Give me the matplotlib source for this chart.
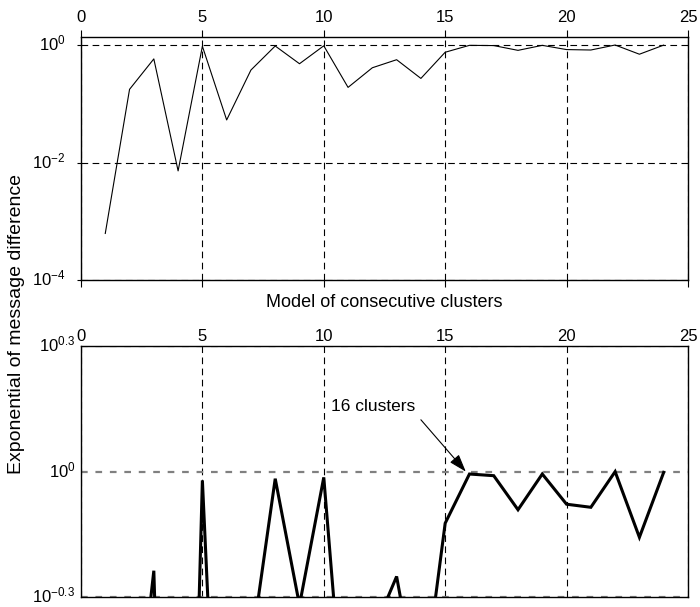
import matplotlib.pyplot as plt
import matplotlib.transforms as mtransforms
import numpy as np

plt.rcParams['font.family'] = ['Liberation Sans', 'DejaVu Sans']
plt.rcParams['mathtext.fontset'] = 'custom'
plt.rcParams['mathtext.rm'] = 'Liberation Sans'
plt.rcParams['mathtext.it'] = 'Liberation Sans:italic'
plt.rcParams['mathtext.bf'] = 'Liberation Sans:bold'

# Data (same series in both panels)
clusters = np.arange(1, 25)
msg_diff = [6.2e-4, 0.176, 0.58, 0.0072, 0.953, 0.053, 0.375, 0.962,
            0.48, 0.969, 0.19, 0.41, 0.562, 0.27, 0.753, 0.987,
            0.978, 0.811, 0.987, 0.836, 0.822, 1.0, 0.697, 0.996]

x_ticks = [0, 5, 10, 15, 20, 25]
top_yticks = [1e-4, 1e-2, 1.0]
top_ylabels = [r'$\mathdefault{10^{-4}}$', r'$\mathdefault{10^{-2}}$', r'$\mathdefault{10^{0}}$']
bottom_yticks = [10 ** -0.3, 1.0, 10 ** 0.3]
bottom_ylabels = [r'$\mathdefault{10^{-0.3}}$', r'$\mathdefault{10^{0}}$', r'$\mathdefault{10^{0.3}}$']

fig = plt.figure(figsize=(7, 6.07), dpi=100)
ax1 = fig.add_axes([0.1157, 0.5387, 0.8671, 0.4008])
ax2 = fig.add_axes([0.1157, 0.016, 0.8671, 0.414])

# Panel superior
ax1.plot(clusters, msg_diff, color='black', linewidth=0.8)
ax1.set_yscale('log')
ax1.set_xlim(0, 25)
ax1.set_ylim(1e-4, 10 ** 0.141)
ax1.set_xticks(x_ticks)
ax1.set_yticks(top_yticks, top_ylabels)
ax1.minorticks_off()
ax1.tick_params(axis='x', direction='out', top=True, bottom=True, labeltop=True,
                labelbottom=False, length=5, width=0.8, labelsize=12, pad=3.5)
ax1.tick_params(axis='y', direction='out', length=3, width=0.8, labelsize=12, pad=8)
ax1.grid(True, axis='both', color='black', linestyle=(0, (6, 4)), linewidth=0.8)
ax1.set_xlabel('Model of consecutive clusters', fontsize=13, labelpad=5)

# Panel inferior
ax2.plot(clusters, msg_diff, color='black', linewidth=2.2, solid_joinstyle='miter')
ax2.set_yscale('log')
ax2.set_xlim(0, 25)
ax2.set_ylim(10 ** -0.3, 10 ** 0.3)
ax2.set_xticks(x_ticks)
ax2.set_yticks(bottom_yticks, bottom_ylabels)
ax2.minorticks_off()
ax2.tick_params(axis='x', top=True, bottom=False, labeltop=True, labelbottom=False,
                length=0, labelsize=12, pad=1.5)
ax2.tick_params(axis='y', length=0, labelsize=12, pad=4)
ax2.grid(True, axis='x', color='black', linestyle=(0, (6, 4)), linewidth=0.8)
ax2.grid(True, axis='y', color='#808080', linestyle=(0, (3, 3.5)), linewidth=1.6)

ax2.text(12.04, 1.43, '16 clusters', fontsize=12.5, ha='center', va='center')
ax2.annotate('', xy=(15.85, 1.0), xytext=(14.0, 1.33),
             arrowprops=dict(arrowstyle='-|>,head_length=0.6,head_width=0.2',
                             color='black', lw=0.8, mutation_scale=18,
                             shrinkA=0, shrinkB=0))

# subir um pouco os rótulos do eixo y (a base "10" fica centrada no tick)
shift = mtransforms.ScaledTranslation(0, 2.2 / 72, fig.dpi_scale_trans)
for ax in (ax1, ax2):
    for lbl in ax.get_yticklabels():
        lbl.set_transform(lbl.get_transform() + shift)
    for s in ax.spines.values():
        s.set_linewidth(1.0)

fig.text(0.023, 0.466, 'Exponential of message difference', rotation=90,
         ha='center', va='center', fontsize=14)

fig.savefig('out.png', dpi=100)
